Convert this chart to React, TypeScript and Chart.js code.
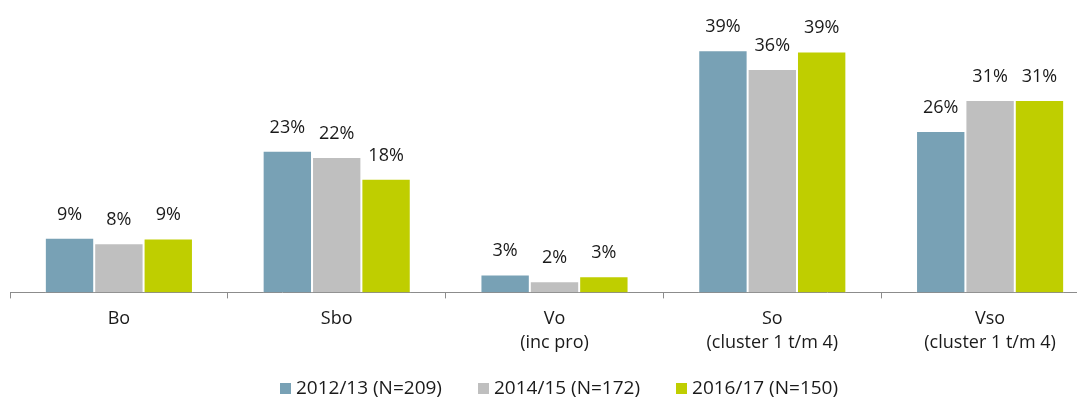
import React, { useEffect, useRef } from 'react';
import { Chart, registerables } from 'chart.js';

Chart.register(...registerables);

const categories: string[][] = [
  ['Bo'],
  ['Sbo'],
  ['Vo', '(inc pro)'],
  ['So', '(cluster 1 t/m 4)'],
  ['Vso', '(cluster 1 t/m 4)'],
];
const seriesLabels = ['2012/13 (N=209)', '2014/15 (N=172)', '2016/17 (N=150)'];
const values2012 = [8.8, 22.8, 2.9, 39.0, 26.0];
const values2014 = [7.9, 21.8, 1.8, 36.0, 31.0];
const values2016 = [8.7, 18.3, 2.6, 38.8, 31.0];
const seriesColors = ['#78A1B5', '#BFBFBF', '#BFCE00'];

const FONT = '"Open Sans", "DejaVu Sans", sans-serif';

const valueLabels = {
  id: 'valueLabels',
  afterDatasetsDraw(chart: any) {
    const ctx = chart.ctx;
    ctx.save();
    ctx.font = `18px ${FONT}`;
    ctx.fillStyle = '#1a1a1a';
    ctx.textAlign = 'center';
    ctx.textBaseline = 'alphabetic';
    chart.data.datasets.forEach((ds: any, i: number) => {
      const meta = chart.getDatasetMeta(i);
      meta.data.forEach((bar: any, j: number) => {
        const v = ds.data[j] as number;
        ctx.fillText(`${Math.round(v)}%`, bar.x, bar.y - 18);
      });
    });
    ctx.restore();
  },
};

// Legend drawn on the canvas, Excel-style spacing
const bottomLegend = {
  id: 'bottomLegend',
  afterDraw(chart: any) {
    const ctx = chart.ctx;
    const box = 11;
    const gapBoxText = 5;
    const gapItems = 36;
    const centerX = 559;
    const centerY = 388;
    ctx.save();
    ctx.font = `19px ${FONT}`;
    ctx.textBaseline = 'middle';
    ctx.textAlign = 'left';
    const items = chart.data.datasets.map((ds: any) => ({
      text: ds.label as string,
      color: ds.backgroundColor as string,
      w: ctx.measureText(ds.label).width,
    }));
    const total =
      items.reduce((s: number, it: any) => s + box + gapBoxText + it.w, 0) +
      gapItems * (items.length - 1);
    let x = centerX - total / 2;
    items.forEach((it: any) => {
      ctx.fillStyle = it.color;
      ctx.fillRect(Math.round(x), centerY - 5, box, box);
      ctx.fillStyle = '#1a1a1a';
      ctx.fillText(it.text, x + box + gapBoxText, centerY + 1);
      x += box + gapBoxText + it.w + gapItems;
    });
    ctx.restore();
  },
};

export default function App() {
  const ref = useRef<HTMLCanvasElement | null>(null);

  useEffect(() => {
    if (!ref.current) return;
    const seriesValues = [values2012, values2014, values2016];
    const chart = new Chart(ref.current, {
      type: 'bar',
      data: {
        labels: categories,
        datasets: seriesLabels.map((label, i) => ({
          label,
          data: seriesValues[i],
          backgroundColor: seriesColors[i],
          borderColor: '#ffffff',
          borderWidth: 1,
          borderSkipped: 'bottom',
          barPercentage: 1,
          categoryPercentage: 0.68,
        })),
      },
      options: {
        responsive: false,
        animation: false,
        layout: { padding: { top: 13, left: 10, right: 1, bottom: 42 } },
        plugins: {
          legend: { display: false },
          tooltip: { enabled: false },
        },
        scales: {
          y: { display: false, min: 0, max: 45 },
          x: {
            grid: {
              display: true,
              drawOnChartArea: false,
              drawTicks: true,
              tickLength: 6,
              color: '#8c8c8c',
              offset: true,
            },
            border: { display: true, color: '#8c8c8c', width: 1 },
            ticks: {
              color: '#1a1a1a',
              padding: 8,
              maxRotation: 0,
              font: { family: FONT, size: 18, lineHeight: 1.35 },
            },
          },
        },
      },
      plugins: [valueLabels, bottomLegend],
    });
    return () => chart.destroy();
  }, []);

  return (
    <div style={{ margin: '-8px', width: '1085px', height: '405px', overflow: 'hidden', background: '#fff' }}>
      <canvas ref={ref} width={1100} height={405} style={{ display: 'block' }} />
    </div>
  );
}
